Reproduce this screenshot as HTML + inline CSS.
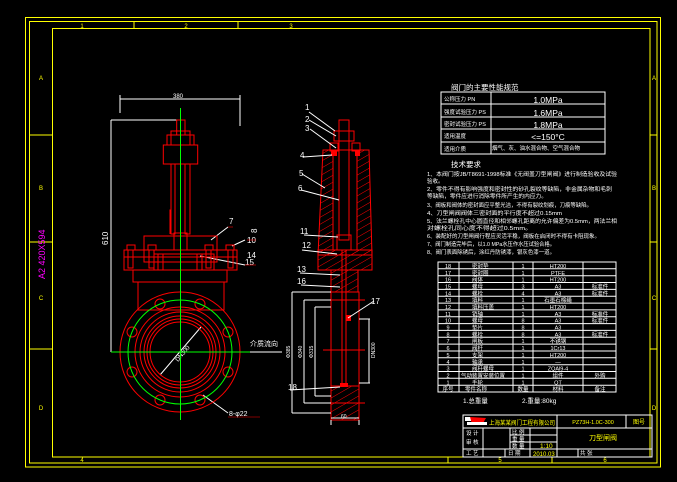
<!DOCTYPE html>
<html><head><meta charset="utf-8"><style>
html,body{margin:0;padding:0;background:#000;}
svg{display:block;}
text{font-family:"Liberation Sans","Noto Sans CJK SC",sans-serif;}
</style></head><body>
<svg width="677" height="482" viewBox="0 0 677 482" xmlns="http://www.w3.org/2000/svg">
<defs>
<pattern id="h" width="6" height="6" patternUnits="userSpaceOnUse" patternTransform="rotate(60)">
<line x1="0" y1="0" x2="0" y2="6" stroke="#f00" stroke-width="1"/>
</pattern>
</defs>
<rect width="677" height="482" fill="#000"/>
<!-- frame -->
<g fill="none" stroke="#ff0" stroke-width="1">
<rect x="25.5" y="17.5" width="635" height="449.5"/>
<rect x="29.5" y="21.5" width="627.5" height="441.5"/>
<rect x="52.5" y="28.5" width="597.5" height="428.5"/>
<line x1="134" y1="21.5" x2="134" y2="28.5"/><line x1="238" y1="21.5" x2="238" y2="28.5"/>
<line x1="448" y1="456.7" x2="448" y2="463"/><line x1="552" y1="456.7" x2="552" y2="463"/>
<line x1="29.5" y1="135" x2="52.5" y2="135"/><line x1="29.5" y1="242" x2="52.5" y2="242"/><line x1="29.5" y1="349" x2="52.5" y2="349"/>
<line x1="650" y1="135" x2="657" y2="135"/><line x1="650" y1="242" x2="657" y2="242"/><line x1="650" y1="349" x2="657" y2="349"/>
</g>
<g fill="#ff0" font-size="6" text-anchor="middle">
<text x="82" y="28">1</text><text x="186" y="28">2</text><text x="291" y="28">3</text>
<text x="500" y="462">5</text><text x="605" y="462">6</text><text x="82" y="462">4</text>
<text x="41" y="80">A</text><text x="41" y="190">B</text><text x="41" y="300">C</text><text x="41" y="410">D</text>
<text x="654" y="80">A</text><text x="654" y="190">B</text><text x="654" y="300">C</text><text x="654" y="410">D</text>
</g>
<text x="45" y="279" fill="#f0f" font-size="9" transform="rotate(-90 45 279)">A2  420X594</text>

<!-- FRONT VIEW -->
<g fill="none" stroke="#fff" stroke-width="1">
<line x1="120" y1="99" x2="240" y2="99"/><line x1="120" y1="95" x2="120" y2="113"/><line x1="240" y1="95" x2="240" y2="126"/>
<line x1="111" y1="120" x2="177" y2="120"/><line x1="111" y1="120" x2="111" y2="352"/>
<line x1="160" y1="375" x2="201" y2="327"/>
<line x1="250" y1="352" x2="282" y2="352"/>
<line x1="211" y1="240" x2="228" y2="227"/>
<line x1="232" y1="246" x2="245" y2="240"/>
<line x1="200" y1="256" x2="245" y2="265"/>
<line x1="203" y1="395" x2="228" y2="413"/>
</g>
<g fill="#fff" font-size="8">
<text x="173" y="98" font-size="6">380</text>
<text x="108" y="245" transform="rotate(-90 108 245)">610</text>
<text x="229" y="224">7</text>
<text x="247" y="237" font-size="8" transform="rotate(-90 250 230)">8</text>
<text x="247" y="243">10</text>
<text x="247" y="258">14</text>
<text x="245" y="265">15</text>
<text x="250" y="346" font-size="7">介质流向</text>
<text x="229" y="416" font-size="7">8-φ22</text>
<text x="178" y="362" font-size="6" transform="rotate(-50 178 362)">DN300</text>
</g>
<g stroke="#f00" stroke-width="0.6" fill="#f00">
<line x1="228" y1="227" x2="233" y2="227"/><line x1="247" y1="240" x2="256" y2="240"/><line x1="245" y1="265" x2="256" y2="265"/><line x1="228" y1="417" x2="260" y2="417"/>
</g>
<g fill="none" stroke="#f00" stroke-width="1">
<rect x="176.7" y="120" width="8.3" height="15"/>
<rect x="171" y="131" width="19" height="14"/>
<rect x="167" y="135" width="27" height="10"/>
<rect x="163.3" y="145" width="34.4" height="19"/>
<rect x="171" y="164" width="4" height="70"/><rect x="185" y="164" width="5" height="70"/>
<polyline points="171,210 170,210 170,234"/>
<rect x="144" y="236" width="73" height="26"/>
<rect x="174" y="233" width="13" height="17"/>
<rect x="124" y="250" width="113" height="7"/>
<rect x="124" y="257" width="113" height="13"/>
<rect x="154" y="254" width="60" height="16"/>
<rect x="128" y="250" width="5" height="18"/><rect x="149" y="250" width="5" height="18"/><rect x="206" y="250" width="5" height="18"/><rect x="228" y="250" width="5" height="18"/>
<rect x="158" y="254" width="5" height="16"/><rect x="197" y="254" width="5" height="16"/>
<rect x="127" y="245" width="8" height="5"/><rect x="148" y="245" width="8" height="5"/><rect x="205" y="245" width="8" height="5"/><rect x="226" y="245" width="8" height="5"/>
<rect x="133" y="270" width="94" height="12"/>
<rect x="138" y="282" width="86" height="28"/>
<circle cx="180" cy="352" r="60"/>
<circle cx="180" cy="352" r="45"/><circle cx="180" cy="352" r="40"/><circle cx="180" cy="352" r="36"/><circle cx="180" cy="352" r="33"/><circle cx="180" cy="352" r="30"/>
<circle cx="200" cy="304" r="5"/><circle cx="228" cy="332" r="5"/><circle cx="228" cy="372" r="5"/><circle cx="200" cy="400" r="5"/>
<circle cx="160" cy="400" r="5"/><circle cx="132" cy="372" r="5"/><circle cx="132" cy="332" r="5"/><circle cx="160" cy="304" r="5"/>
</g>
<g fill="none" stroke="#0f0" stroke-width="1">
<line x1="180.5" y1="108" x2="180.5" y2="420"/>
<line x1="111" y1="352" x2="250" y2="352"/>
<circle cx="180" cy="352" r="52"/>
</g>

<!-- SIDE VIEW -->
<polygon points="323,150 369,150 372,255 318,255" fill="url(#h)" stroke="#f00"/>
<rect x="318" y="250" width="54" height="20" fill="url(#h)" stroke="#f00"/>
<rect x="331" y="270" width="27" height="22" fill="url(#h)" stroke="#f00"/>
<rect x="331" y="292" width="28" height="128" fill="none" stroke="#f00"/>
<rect x="331" y="386" width="28" height="34" fill="url(#h)" stroke="#f00"/>
<rect x="333" y="150" width="24" height="100" fill="#000" stroke="#f00"/>
<g fill="none" stroke="#f00" stroke-width="1">
<rect x="339" y="120" width="10" height="120"/>
<rect x="334" y="131" width="20" height="10"/>
<rect x="330" y="143" width="8" height="8"/><rect x="352" y="143" width="8" height="8"/>
<rect x="337" y="235" width="14" height="15"/>
<line x1="342" y1="250" x2="342" y2="386"/><line x1="346" y1="250" x2="346" y2="386"/>
<line x1="322" y1="300" x2="365" y2="300"/>
<line x1="322" y1="403" x2="365" y2="403"/>
<line x1="323" y1="350" x2="365" y2="350"/>
</g>
<rect x="331" y="150" width="6" height="6" fill="#f00"/>
<rect x="355" y="151" width="5" height="5" fill="#f00"/>
<rect x="346" y="315" width="5" height="6" fill="#f00"/>
<rect x="340" y="383" width="8" height="4" fill="#f00"/>
<g fill="none" stroke="#fff" stroke-width="1">
<line x1="292" y1="292" x2="331" y2="292"/><line x1="292" y1="292" x2="292" y2="413"/><line x1="292" y1="413" x2="331" y2="413"/>
<line x1="304" y1="300" x2="331" y2="300"/><line x1="304" y1="300" x2="304" y2="403"/><line x1="304" y1="403" x2="331" y2="403"/>
<line x1="315" y1="307" x2="331" y2="307"/><line x1="315" y1="307" x2="315" y2="396"/><line x1="315" y1="396" x2="331" y2="396"/>
<line x1="359" y1="319" x2="370" y2="319"/><line x1="369" y1="319" x2="369" y2="383"/><line x1="359" y1="383" x2="370" y2="383"/>
<line x1="331" y1="418" x2="359" y2="418"/><line x1="331" y1="420" x2="331" y2="425"/><line x1="359" y1="420" x2="359" y2="425"/>
<line x1="309" y1="112" x2="335" y2="131"/><line x1="309" y1="120" x2="336" y2="136"/><line x1="310" y1="129" x2="336" y2="148"/>
<line x1="303" y1="157" x2="332" y2="155"/><line x1="302" y1="174" x2="325" y2="188"/><line x1="301" y1="190" x2="339" y2="200"/>
<line x1="304" y1="235" x2="338" y2="237"/><line x1="302" y1="250" x2="337" y2="254"/><line x1="300" y1="273" x2="340" y2="275"/><line x1="301" y1="285" x2="340" y2="287"/>
<line x1="374" y1="301" x2="348" y2="318"/><line x1="290" y1="390" x2="340" y2="387"/>
</g>
<g fill="#fff" font-size="8">
<text x="305" y="110">1</text><text x="305" y="122">2</text><text x="305" y="131">3</text>
<text x="300" y="158">4</text><text x="299" y="176">5</text><text x="298" y="191">6</text>
<text x="300" y="234">11</text><text x="302" y="248">12</text><text x="297" y="272">13</text><text x="297" y="284">16</text>
<text x="371" y="304">17</text><text x="288" y="390">18</text>
<text x="341" y="418" font-size="5">60</text>
</g>
<g fill="#fff" font-size="5">
<text x="290" y="358" transform="rotate(-90 290 358)">Φ385</text>
<text x="302" y="358" transform="rotate(-90 302 358)">Φ340</text>
<text x="313" y="358" transform="rotate(-90 313 358)">Φ315</text>
<text x="375" y="358" transform="rotate(-90 375 358)">DN300</text>
</g>

<!-- PERFORMANCE TABLE -->
<text x="451" y="90" fill="#fff" font-size="7.5">阀门的主要性能规范</text>
<g fill="none" stroke="#fff" stroke-width="1">
<rect x="441" y="92" width="164" height="62"/>
<line x1="491" y1="92" x2="491" y2="154"/>
<line x1="441" y1="104" x2="605" y2="104"/><line x1="441" y1="117" x2="605" y2="117"/><line x1="441" y1="129" x2="605" y2="129"/><line x1="441" y1="142" x2="605" y2="142"/>
</g>
<g fill="#fff" font-size="5.5">
<text x="444" y="101">公称压力 PN</text><text x="444" y="114">强度试验压力 PS</text><text x="444" y="126">密封试验压力 PS</text><text x="444" y="138">适用温度</text><text x="444" y="151">适用介质</text>
<text x="492" y="150" font-size="5.5">烟气、灰、油水混合物、空气混合物</text>
</g>
<g fill="#fff" font-size="8.5" text-anchor="middle">
<text x="548" y="103">1.0MPa</text><text x="548" y="116">1.6MPa</text><text x="548" y="128">1.8MPa</text><text x="548" y="140">&lt;=150°C</text>
</g>
<text x="451" y="167" fill="#fff" font-size="7.5">技术要求</text>
<g fill="#fff" font-size="5.5">
<text x="427" y="176" textLength="190" lengthAdjust="spacingAndGlyphs">1、本阀门按JB/T8691-1998标准《无阀盖刀型闸阀》进行制造验收及试验</text>
<text x="427" y="183">验收。</text>
<text x="427" y="191" textLength="185" lengthAdjust="spacingAndGlyphs">2、零件不得有影响强度和密封性的砂孔裂纹等缺陷，非金属杂物和毛刺</text>
<text x="427" y="198" textLength="120" lengthAdjust="spacingAndGlyphs">等缺陷，零件应进行消除零件所产生的内应力。</text>
<text x="427" y="207" textLength="165" lengthAdjust="spacingAndGlyphs">3、阀板和阀体的密封面应平整光洁，不得有裂纹划痕，刀痕等缺陷。</text>
<text x="427" y="215" textLength="135" lengthAdjust="spacingAndGlyphs">4、刀型闸阀阀体三密封面的平行度不超过0.15mm</text>
<text x="427" y="223" textLength="190" lengthAdjust="spacingAndGlyphs">5、法兰螺栓孔中心圆直径和相邻螺孔距离的允许偏差为0.5mm，两法兰相</text>
<text x="427" y="230" textLength="105" lengthAdjust="spacingAndGlyphs">对螺栓孔同心度不得超过0.5mm。</text>
<text x="427" y="238" textLength="173" lengthAdjust="spacingAndGlyphs">6、装配好的刀型闸阀行程应灵活平稳，阀板在启闭时不得有卡阻现象。</text>
<text x="427" y="246" textLength="128" lengthAdjust="spacingAndGlyphs">7、阀门制造完毕后，以1.0 MPa水压作水压试验合格。</text>
<text x="427" y="254" textLength="128" lengthAdjust="spacingAndGlyphs">8、阀门表面除锈后，涂红丹防锈漆，银灰色漆一道。</text>
</g>

<!-- PARTS LIST -->
<g fill="none" stroke="#fff" stroke-width="1">
<rect x="438" y="262" width="178" height="130"/>
<line x1="459" y1="262" x2="459" y2="392"/><line x1="513" y1="262" x2="513" y2="392"/><line x1="533" y1="262" x2="533" y2="392"/><line x1="583" y1="262" x2="583" y2="392"/>
<path d="M438 268.8H616M438 275.7H616M438 282.5H616M438 289.4H616M438 296.2H616M438 303.1H616M438 309.9H616M438 316.7H616M438 323.6H616M438 330.4H616M438 337.3H616M438 344.1H616M438 351H616M438 357.8H616M438 364.7H616M438 371.5H616M438 378.3H616M438 385.2H616"/>
</g>
<g fill="#fff" font-size="5.5">
<g text-anchor="middle">
<text x="448" y="268">18</text><text x="448" y="274.8">17</text><text x="448" y="281.6">16</text><text x="448" y="288.5">15</text><text x="448" y="295.3">14</text><text x="448" y="302.2">13</text><text x="448" y="309">12</text><text x="448" y="315.8">11</text><text x="448" y="322.7">10</text><text x="448" y="329.5">9</text><text x="448" y="336.4">8</text><text x="448" y="343.2">7</text><text x="448" y="350.1">6</text><text x="448" y="356.9">5</text><text x="448" y="363.8">4</text><text x="448" y="370.6">3</text><text x="448" y="377.4">2</text><text x="448" y="384.3">1</text><text x="448" y="391.1">序号</text>
<text x="523" y="268">1</text><text x="523" y="274.8">1</text><text x="523" y="281.6">1</text><text x="523" y="288.5">3</text><text x="523" y="295.3">4</text><text x="523" y="302.2">1</text><text x="523" y="309">1</text><text x="523" y="315.8">1</text><text x="523" y="322.7">8</text><text x="523" y="329.5">8</text><text x="523" y="336.4">8</text><text x="523" y="343.2">1</text><text x="523" y="350.1">1</text><text x="523" y="356.9">1</text><text x="523" y="363.8">1</text><text x="523" y="370.6">1</text><text x="523" y="377.4">1</text><text x="523" y="384.3">1</text><text x="523" y="391.1">数量</text>
<text x="558" y="268">HT200</text><text x="558" y="274.8">PTFE</text><text x="558" y="281.6">HT200</text><text x="558" y="288.5">A3</text><text x="558" y="295.3">A3</text><text x="558" y="302.2">石墨石棉绳</text><text x="558" y="309">HT200</text><text x="558" y="315.8">A3</text><text x="558" y="322.7">A3</text><text x="558" y="329.5">A3</text><text x="558" y="336.4">A3</text><text x="558" y="343.2">不锈钢</text><text x="558" y="350.1">1Cr13</text><text x="558" y="356.9">HT200</text><text x="558" y="363.8">—</text><text x="558" y="370.6">ZQAl9-4</text><text x="558" y="377.4">组件</text><text x="558" y="384.3">QT</text><text x="558" y="391.1">材料</text>
<text x="600" y="288.5">标准件</text><text x="600" y="295.3">标准件</text><text x="600" y="315.8">标准件</text><text x="600" y="322.7">标准件</text><text x="600" y="336.4">标准件</text><text x="600" y="377.4">外购</text><text x="600" y="391.1">备注</text>
</g>
<text x="472" y="268">密封垫</text><text x="472" y="274.8">密封圈</text><text x="472" y="281.6">阀体</text><text x="472" y="288.5">螺母</text><text x="472" y="295.3">螺栓</text><text x="472" y="302.2">填料</text><text x="472" y="309">填料压盖</text><text x="472" y="315.8">销轴</text><text x="472" y="322.7">螺母</text><text x="472" y="329.5">垫片</text><text x="472" y="336.4">螺栓</text><text x="472" y="343.2">闸板</text><text x="472" y="350.1">阀杆</text><text x="472" y="356.9">支架</text><text x="472" y="363.8">轴承</text><text x="472" y="370.6">阀杆螺母</text><text x="461" y="377.4">气动装置安装位置</text><text x="472" y="384.3">手轮</text><text x="465" y="391.1">零件名称</text>
</g>
<text x="463" y="403" fill="#fff" font-size="6.5">1.总重量</text>
<text x="522" y="403" fill="#fff" font-size="6.5">2.重量:80kg</text>

<!-- TITLE BLOCK -->
<g fill="none" stroke="#fff" stroke-width="1">
<rect x="463" y="415" width="189" height="42"/>
<line x1="463" y1="428" x2="652" y2="428"/>
<line x1="557" y1="415" x2="557" y2="457"/><line x1="626" y1="415" x2="626" y2="428"/>
<line x1="483" y1="428" x2="483" y2="457"/><line x1="510" y1="428" x2="510" y2="449"/><line x1="530" y1="428" x2="530" y2="457"/>
<line x1="463" y1="449" x2="652" y2="449"/><line x1="510" y1="435" x2="557" y2="435"/><line x1="510" y1="442" x2="557" y2="442"/>
<line x1="505" y1="449" x2="505" y2="457"/><line x1="578" y1="449" x2="578" y2="457"/>
</g>
<rect x="465" y="417" width="6" height="4" fill="#fff"/>
<polygon points="470,417 486,418 482,425 472,424" fill="#f00"/>
<rect x="467" y="422" width="20" height="3" fill="#fff"/>
<text x="489" y="425" fill="#ff0" font-size="6" textLength="66" lengthAdjust="spacingAndGlyphs">上海某某阀门工程有限公司</text>
<text x="593" y="424" fill="#ff0" font-size="5.5" text-anchor="middle">PZ73H-1.0C-300</text>
<text x="639" y="424" fill="#ff0" font-size="6" text-anchor="middle">图号</text>
<text x="603" y="440" fill="#ff0" font-size="7" text-anchor="middle">刀型闸阀</text>
<g fill="#fff" font-size="5.5">
<text x="466" y="435">设 计</text><text x="466" y="444">审 核</text><text x="466" y="455">工 艺</text>
<text x="512" y="434">比 例</text><text x="512" y="441">重 量</text><text x="512" y="448">数 量</text><text x="508" y="455">日 期</text><text x="580" y="455">共 张</text>
</g>
<text x="540" y="448" fill="#ff0" font-size="6.5">1:10</text>
<text x="533" y="456" fill="#ff0" font-size="6">2010.03</text>
</svg>
</body></html>
